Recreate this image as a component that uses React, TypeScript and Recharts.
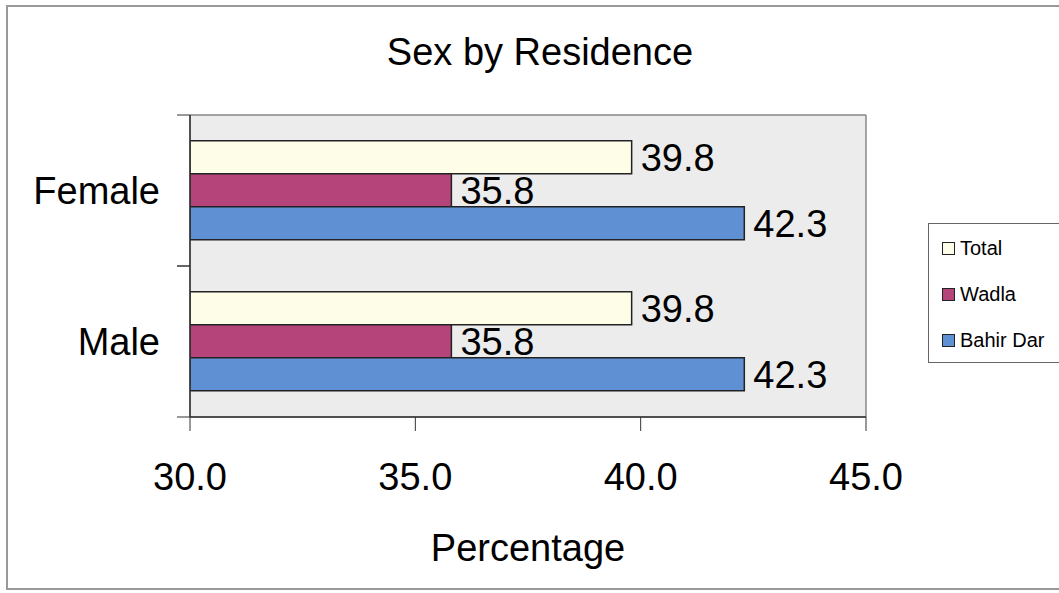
import React from "react";
import {
  BarChart,
  Bar,
  XAxis,
  YAxis,
  CartesianGrid,
  LabelList,
  Label,
} from "recharts";

// values
const categories = ["Female", "Male"];
const totalValues = [39.8, 39.8];
const wadlaValues = [35.8, 35.8];
const bahirDarValues = [42.3, 42.3];
const xTicks = [30, 35, 40, 45];

const seriesNames = ["Total", "Wadla", "Bahir Dar"];
const colors = ["#FEFDE8", "#B5447B", "#6090D4"];

const data = categories.map((c, i) => ({
  name: c,
  Total: totalValues[i],
  Wadla: wadlaValues[i],
  "Bahir Dar": bahirDarValues[i],
}));

const FONT = "'Liberation Sans', Arial, sans-serif";

const YTick = (props: any) => {
  const { x, y, payload } = props;
  const half = payload.offset || 0;
  const lx = x + 17;
  return (
    <g>
      <text x={x} y={y} textAnchor="end" dominantBaseline="central" fontSize={38} fontFamily={FONT} fill="#000">
        {payload.value}
      </text>
      <line x1={lx} x2={lx + 13} y1={y - half} y2={y - half} stroke="#333" />
      <line x1={lx} x2={lx + 13} y1={y + half} y2={y + half} stroke="#333" />
    </g>
  );
};

const LegendBox = () => (
  <div
    style={{
      position: "absolute",
      left: 928,
      top: 223,
      border: "1.5px solid #666",
      width: 160,
      height: 140,
      boxSizing: "border-box",
      background: "#fff",
      fontFamily: FONT,
      fontSize: 20,
      paddingTop: 1,
    }}
  >
    {seriesNames.map((n, i) => (
      <div key={n} style={{ display: "flex", alignItems: "center", height: 46, paddingLeft: 13 }}>
        <span
          style={{
            display: "inline-block",
            width: 11,
            height: 11,
            background: colors[i],
            border: "1.5px solid #222",
            marginRight: 5,
          }}
        />
        <span>{n}</span>
      </div>
    ))}
  </div>
);

export default function App() {
  return (
    <div style={{ position: "absolute", left: 0, top: 0, width: 1059, height: 593, overflow: "hidden", background: "#fff" }}>
      <div
        style={{
          position: "absolute",
          left: 6,
          top: 5,
          width: 1100,
          height: 585,
          border: "2px solid #999",
          boxSizing: "border-box",
        }}
      />
      <div
        style={{
          position: "absolute",
          left: 0,
          width: 1080,
          top: 33,
          textAlign: "center",
          fontFamily: FONT,
          fontSize: 38,
          lineHeight: "38px",
        }}
      >
        Sex by Residence
      </div>
      <BarChart
        width={1059}
        height={593}
        data={data}
        layout="vertical"
        margin={{ top: 115, right: 193, bottom: 26, left: 0 }}
        barGap={0}
        barCategoryGap="17%"
        style={{ position: "absolute", left: 0, top: 0 }}
      >
        <CartesianGrid
          fill="#ECECEC"
          stroke="#888"
          strokeWidth={1.5}
          horizontalCoordinatesGenerator={({ offset }: any) => [offset.top, offset.top + offset.height]}
          verticalCoordinatesGenerator={({ offset }: any) => [offset.left, offset.left + offset.width]}
        />
        <XAxis
          type="number"
          domain={[30, 45]}
          ticks={xTicks}
          allowDataOverflow
          tickFormatter={(v: number) => v.toFixed(1)}
          tick={{ fontSize: 38, fontFamily: FONT, fill: "#000" }}
          tickSize={14}
          tickMargin={32}
          height={150}
          axisLine={{ stroke: "#333", strokeWidth: 1.5 }}
          tickLine={{ stroke: "#333" }}
        >
          <Label value="Percentage" position="insideBottom" offset={6} style={{ fontSize: 38, fontFamily: FONT, fill: "#000" }} />
        </XAxis>
        <YAxis
          type="category"
          dataKey="name"
          width={190}
          tickSize={13}
          tickMargin={17}
          tickLine={false}
          tick={<YTick />}
          axisLine={{ stroke: "#333", strokeWidth: 1.5 }}
        />
        {seriesNames.map((n, i) => (
          <Bar key={n} dataKey={n} fill={colors[i]} stroke="#222" strokeWidth={1.5} isAnimationActive={false}>
            <LabelList
              dataKey={n}
              position="right"
              offset={9}
              formatter={(v: any) => Number(v).toFixed(1)}
              style={{ fontSize: 38, fontFamily: FONT, fill: "#000" }}
            />
          </Bar>
        ))}
      </BarChart>
      <LegendBox />
    </div>
  );
}
